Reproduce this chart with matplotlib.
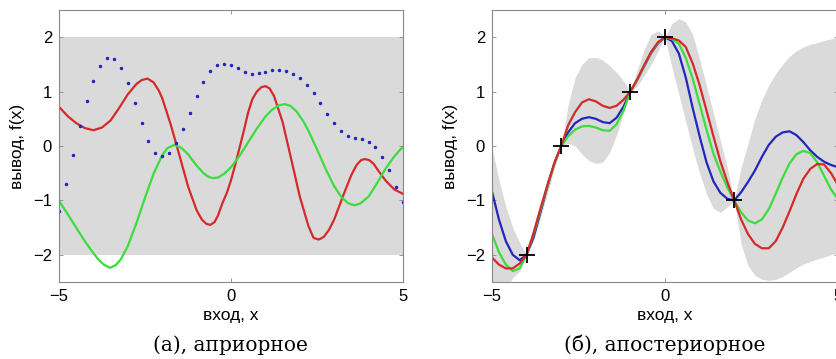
import numpy as np
import matplotlib
matplotlib.use('Agg')
import matplotlib.pyplot as plt

# ---- (а) априорное: выборки из априорного распределения ----
prior_dots_x = np.linspace(-5, 5, 51)
prior_dots_y = [-1.20, -0.70, -0.17, 0.36, 0.82, 1.19, 1.47, 1.61, 1.60, 1.44,
                1.16, 0.79, 0.42, 0.09, -0.12, -0.18, -0.12, 0.06, 0.32, 0.61,
                0.91, 1.17, 1.37, 1.49, 1.51, 1.48, 1.43, 1.36, 1.33, 1.34,
                1.36, 1.39, 1.39, 1.37, 1.32, 1.25, 1.13, 0.97, 0.79, 0.59,
                0.42, 0.27, 0.19, 0.15, 0.12, 0.08, -0.01, -0.20, -0.45, -0.75,
                -1.03]

prior_red_x = [-5.0, -4.75, -4.5, -4.25, -4.0, -3.75, -3.5, -3.25, -3.0, -2.75,
               -2.6, -2.43, -2.25, -2.1, -2.0, -1.75, -1.5, -1.25, -1.0, -0.85,
               -0.72, -0.6, -0.48, -0.38, -0.25, -0.12, 0.0, 0.12, 0.25, 0.38,
               0.5, 0.62, 0.75, 0.88, 1.0, 1.12, 1.25, 1.5, 1.75, 2.0,
               2.25, 2.4, 2.55, 2.7, 2.85, 3.0, 3.25, 3.5, 3.65, 3.78,
               3.89, 4.02, 4.15, 4.3, 4.5, 4.75, 5.0]
prior_red = [0.72, 0.55, 0.42, 0.33, 0.29, 0.34, 0.47, 0.70, 0.95, 1.14,
             1.21, 1.24, 1.17, 1.02, 0.88, 0.39, -0.17, -0.74, -1.18, -1.35,
             -1.43, -1.45, -1.40, -1.28, -1.05, -0.86, -0.63, -0.35, -0.03, 0.30,
             0.62, 0.86, 1.00, 1.08, 1.10, 1.06, 0.92, 0.44, -0.24, -0.93,
             -1.47, -1.69, -1.72, -1.67, -1.54, -1.35, -0.93, -0.53, -0.35, -0.26,
             -0.24, -0.26, -0.33, -0.47, -0.64, -0.80, -0.88]

prior_green_x = [-5.0, -4.75, -4.5, -4.25, -4.0, -3.85, -3.7, -3.52, -3.35, -3.2,
                 -3.0, -2.75, -2.5, -2.25, -2.0, -1.85, -1.65, -1.45, -1.25, -1.0,
                 -0.8, -0.65, -0.52, -0.38, -0.2, 0.0, 0.25, 0.5, 0.75, 1.0,
                 1.2, 1.4, 1.56, 1.72, 1.9, 2.1, 2.25, 2.5, 2.75, 3.0,
                 3.2, 3.4, 3.58, 3.75, 4.0, 4.25, 4.5, 4.75, 5.0]
prior_green = [-1.01, -1.25, -1.50, -1.75, -1.97, -2.09, -2.18, -2.24, -2.19, -2.08,
               -1.84, -1.42, -0.95, -0.51, -0.17, -0.04, 0.02, -0.03, -0.15, -0.36,
               -0.50, -0.57, -0.59, -0.58, -0.51, -0.39, -0.18, 0.07, 0.32, 0.54,
               0.67, 0.75, 0.77, 0.74, 0.64, 0.46, 0.28, -0.06, -0.42, -0.74,
               -0.93, -1.05, -1.09, -1.06, -0.93, -0.68, -0.41, -0.19, -0.01]

# ---- (б) апостериорное ----
train_x = [-4, -3, -1, 0, 2]
train_y = [-2, 0, 1, 2, -1]

post_x = [-5.0, -4.8, -4.6, -4.4, -4.2, -4.0, -3.8, -3.6, -3.4, -3.2,
          -3.0, -2.8, -2.6, -2.4, -2.2, -2.0, -1.8, -1.6, -1.4, -1.2,
          -1.0, -0.8, -0.6, -0.4, -0.2, 0.0, 0.2, 0.4, 0.6, 0.8,
          1.0, 1.2, 1.4, 1.6, 1.8, 2.0, 2.2, 2.4, 2.6, 2.8,
          3.0, 3.2, 3.4, 3.6, 3.8, 4.0, 4.2, 4.4, 4.6, 4.8, 5.0]
post_blue = [-0.84, -1.35, -1.75, -2.00, -2.10, -2.00, -1.68, -1.22, -0.75, -0.32,
             0.00, 0.25, 0.42, 0.50, 0.53, 0.50, 0.44, 0.42, 0.52, 0.72,
             1.00, 1.22, 1.47, 1.71, 1.89, 2.00, 1.93, 1.70, 1.26, 0.70,
             0.18, -0.30, -0.65, -0.86, -0.97, -1.00, -0.85, -0.66, -0.45, -0.20,
             0.02, 0.17, 0.25, 0.27, 0.20, 0.07, -0.08, -0.20, -0.29, -0.35, -0.39]
post_green = [-1.62, -1.95, -2.18, -2.30, -2.25, -2.00, -1.62, -1.18, -0.74, -0.33,
              0.00, 0.18, 0.30, 0.36, 0.37, 0.34, 0.29, 0.28, 0.40, 0.65,
              1.00, 1.22, 1.48, 1.72, 1.90, 2.00, 1.97, 1.88, 1.62, 1.24,
              0.77, 0.30, -0.14, -0.47, -0.76, -1.00, -1.22, -1.37, -1.42, -1.35,
              -1.16, -0.88, -0.58, -0.32, -0.15, -0.09, -0.13, -0.30, -0.55, -0.80, -0.98]
post_red = [-2.05, -2.18, -2.25, -2.25, -2.16, -2.00, -1.60, -1.15, -0.72, -0.32,
            0.00, 0.38, 0.62, 0.80, 0.86, 0.82, 0.74, 0.70, 0.74, 0.85,
            1.00, 1.23, 1.49, 1.73, 1.91, 2.00, 1.98, 1.94, 1.82, 1.52,
            1.12, 0.65, 0.18, -0.28, -0.66, -1.00, -1.35, -1.62, -1.80, -1.88,
            -1.88, -1.75, -1.50, -1.20, -0.88, -0.60, -0.42, -0.33, -0.34, -0.50, -0.72]
band_upper = [-0.04, -0.62, -1.12, -1.50, -1.78, -2.00, -1.55, -1.08, -0.62, -0.22,
              0.00, 0.75, 1.25, 1.50, 1.62, 1.63, 1.58, 1.48, 1.35, 1.20,
              1.00, 1.40, 1.78, 2.05, 2.12, 2.00, 2.25, 2.34, 2.28, 2.05,
              1.60, 1.10, 0.60, 0.10, -0.40, -1.00, -0.40, 0.05, 0.50, 0.85,
              1.12, 1.33, 1.50, 1.65, 1.75, 1.82, 1.87, 1.90, 1.94, 1.97, 2.00]
band_lower = [-3.30, -2.95, -2.65, -2.42, -2.30, -2.00, -1.75, -1.32, -0.88, -0.42,
              0.00, 0.05, 0.00, -0.15, -0.27, -0.32, -0.30, -0.12, 0.20, 0.60,
              1.00, 1.10, 1.30, 1.50, 1.75, 2.00, 1.45, 0.95, 0.45, -0.05,
              -0.50, -0.88, -1.15, -1.22, -1.12, -1.00, -1.80, -2.20, -2.38, -2.45,
              -2.47, -2.45, -2.40, -2.32, -2.24, -2.17, -2.12, -2.08, -2.04, -2.00, -1.97]

RED = '#d42a2a'
GREEN = '#3cdc3c'
BLUE = '#2424c0'
GRAY = '#dadada'

plt.rcParams['font.family'] = ['Liberation Sans', 'DejaVu Sans']

fig = plt.figure(figsize=(8.36, 3.59), dpi=100)
ax1 = fig.add_axes([59 / 836, 77 / 359, 344 / 836, 272 / 359])
ax2 = fig.add_axes([492 / 836, 77 / 359, 346 / 836, 272 / 359])

# левая панель
ax1.fill_between([-5, 5], [-2, -2], [2, 2], color=GRAY, lw=0, zorder=0)
ax1.plot(prior_red_x, prior_red, color=RED, lw=1.6)
ax1.plot(prior_green_x, prior_green, color=GREEN, lw=1.6)
ax1.plot(prior_dots_x, prior_dots_y, ls='none', marker='.', ms=3, color=BLUE)

# правая панель
ax2.fill_between(post_x, band_lower, band_upper, color=GRAY, lw=0, zorder=0)
ax2.plot(post_x, post_blue, color=BLUE, lw=1.6)
ax2.plot(post_x, post_green, color=GREEN, lw=1.6)
ax2.plot(post_x, post_red, color=RED, lw=1.6)
ax2.plot(train_x, train_y, ls='none', marker='+', ms=12, mew=1.3, color='black')

for ax in (ax1, ax2):
    ax.set_xlim(-5, 5)
    ax.set_ylim(-2.5, 2.5)
    ax.set_xticks([-5, 0, 5])
    ax.set_yticks([-2, -1, 0, 1, 2])
    ax.tick_params(direction='in', top=True, right=True, length=3, width=0.6,
                   color='#888888', labelsize=12, pad=5)
    for s in ax.spines.values():
        s.set_color('#888888')
        s.set_linewidth(0.8)
    ax.set_xlabel('вход, x', fontsize=12.5, labelpad=3)
    ax.set_ylabel('вывод, f(x)', fontsize=12.5, labelpad=6)

fig.text(230 / 836, 1 - 345 / 359, '(a), априорное', ha='center', va='center',
         fontsize=14.5, family='DejaVu Serif')
fig.text(665 / 836, 1 - 345 / 359, '(б), апостериорное', ha='center', va='center',
         fontsize=14.5, family='DejaVu Serif')

fig.savefig('out.png', dpi=100)
